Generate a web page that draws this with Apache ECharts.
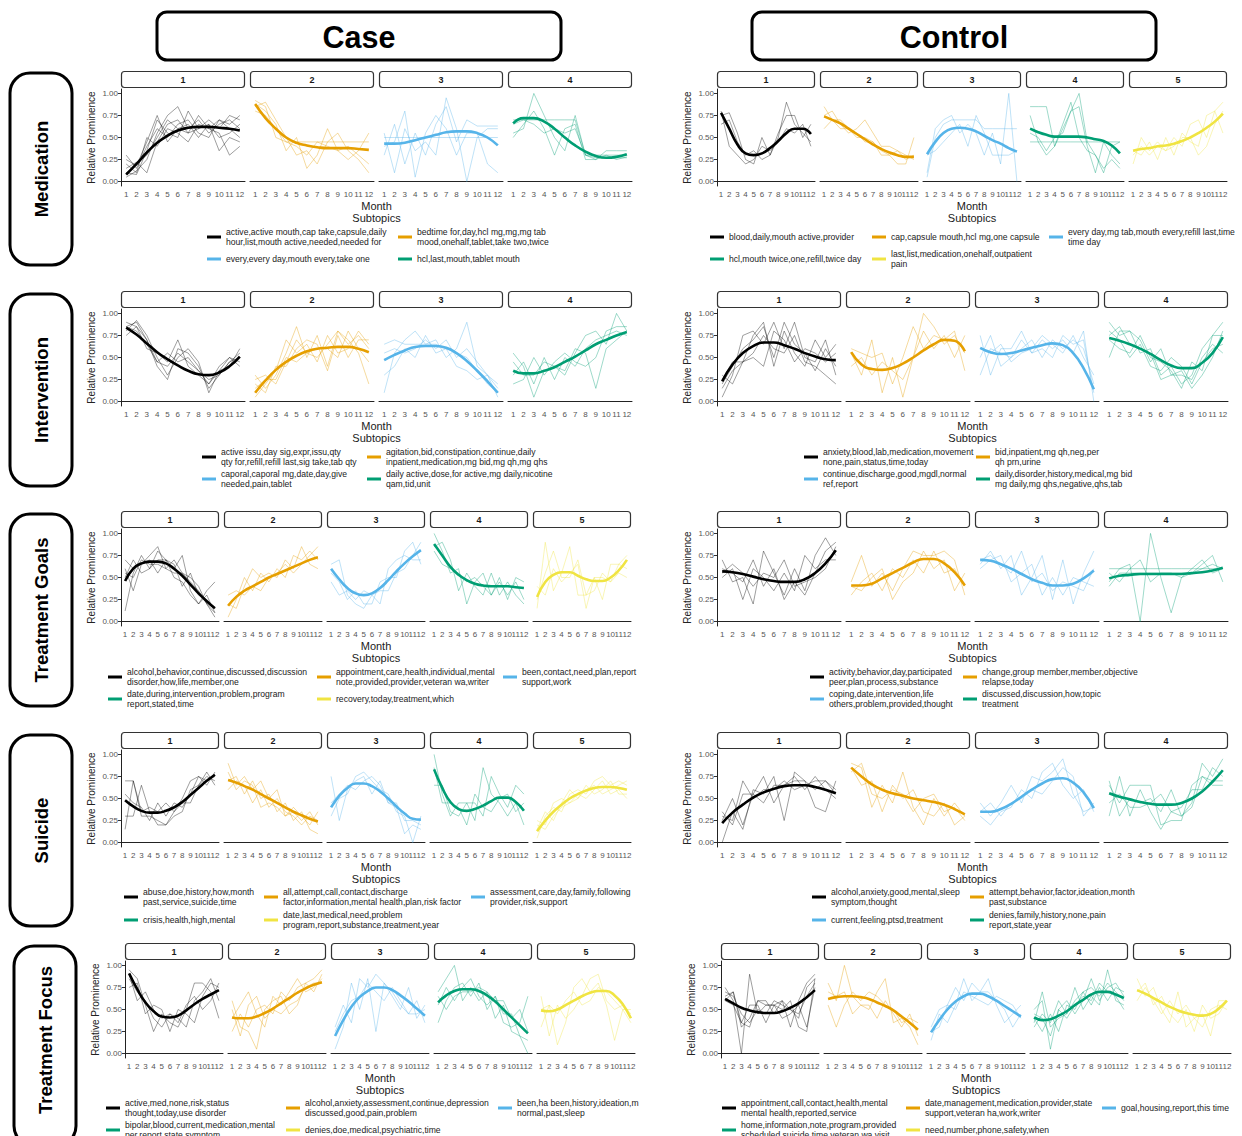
<!DOCTYPE html>
<html>
<head>
<meta charset="utf-8">
<title>Relative prominence of subtopics by month</title>
<script src="https://cdn.jsdelivr.net/npm/echarts@6/dist/echarts.min.js"></script>
<style>
  html, body { margin: 0; padding: 0; background: #fff; }
  #chart { width: 1242px; height: 1136px; }
</style>
</head>
<body>
<div id="chart"></div>
<script>
var months = ['1', '2', '3', '4', '5', '6', '7', '8', '9', '10', '11', '12'];
var yTicks = [0, 0.25, 0.5, 0.75, 1];
var topicColors = ['#000000', '#E69F00', '#56B4E9', '#009E73', '#F0E442'];
var groupNames = ['Case', 'Control'];
var rowNames = ['Medication', 'Intervention', 'Treatment Goals', 'Suicide', 'Treatment Focus'];

// ---- Medication ----
var caseMedTrend = [
  [.08, .2, .33, .44, .52, .58, .61, .62, .62, .61, .6, .58],
  [.88, .72, .6, .5, .44, .41, .39, .38, .38, .38, .37, .36],
  [.43, .43, .44, .47, .5, .53, .56, .57, .57, .55, .5, .41],
  [.66, .72, .72, .68, .6, .5, .41, .34, .29, .27, .28, .31]
];
var caseMedLines = [
  [[.05, .12, .25, .55, .75, .85, .6, .7, .55, .65, .7, .6],
   [.1, .08, .35, .7, .55, .5, .8, .6, .65, .35, .5, .45],
   [.15, .22, .1, .45, .65, .7, .55, .6, .7, .6, .75, .7],
   [.3, .15, .4, .6, .5, .65, .7, .55, .5, .7, .6, .5],
   [.2, .1, .5, .4, .6, .55, .45, .65, .6, .55, .3, .4],
   [.25, .18, .45, .75, .45, .6, .55, .75, .6, .7, .65, .75],
   [.08, .2, .3, .5, .7, .6, .65, .5, .65, .5, .55, .65]],
  [[.92, .85, .5, .45, .4, .3, .45, .4, .35, .4, .3, .2],
   [.85, .9, .7, .5, .3, .35, .2, .45, .55, .35, .25, .1],
   [.8, .75, .6, .45, .45, .45, .45, .45, .45, .45, .45, .45],
   [.88, .8, .65, .35, .5, .15, .3, .6, .35, .25, .35, .55]],
  [[.55, .1, .6, .35, .45, .3, .95, .6, 0, .5, .6, .6],
   [.4, .45, .8, .05, .55, .75, .6, .3, .55, .55, .2, .1],
   [.5, .5, .5, .5, .5, .5, .5, .5, .5, .5, .5, .5],
   [.3, .65, .2, .55, .3, .65, .85, .45, .7, .63, .63, .63]],
  [[.55, .6, 1, .75, .5, .35, .75, .3, .25, .35, .35, .35],
   [.7, .7, .7, .7, .7, .7, .7, .3, .3, .3, .3, .3],
   [.5, .65, .8, .6, .3, .6, .65, .25, .25, .3, .25, .28],
   [.65, .7, .65, .55, .6, .55, .6, .3, .27, .27, .27, .27]]
];
var caseMedTerms = [
  'active,active mouth,cap take,capsule,daily\nhour,list,mouth active,needed,needed for',
  'bedtime for,day,hcl mg,mg,mg tab\nmood,onehalf,tablet,take two,twice',
  'every,every day,mouth every,take one',
  'hcl,last,mouth,tablet mouth'
];

var ctrlMedTrend = [
  [.78, .6, .42, .32, .3, .32, .38, .46, .55, .6, .6, .54],
  [.74, .7, .66, .6, .54, .48, .42, .37, .33, .3, .28, .28],
  [.31, .45, .55, .6, .61, .6, .57, .52, .47, .43, .38, .34],
  [.6, .56, .53, .51, .51, .51, .51, .5, .48, .46, .41, .32],
  [.35, .37, .38, .4, .41, .43, .46, .5, .55, .61, .68, .77]
];
var ctrlMedLines = [
  [[.75, .78, .55, .25, .2, .5, .3, .5, .9, .65, .55, .45],
   [.65, .7, .45, .3, .35, .25, .3, .55, .75, .75, .5, .65],
   [.8, .4, .3, .2, .25, .4, .35, .45, .6, .55, .65, .4]],
  [[.85, .7, .6, .6, .55, .45, .45, .3, .3, .2, .2, .5],
   [.75, .8, .65, .55, .6, .7, .55, .4, .4, .35, .3, .25],
   [.6, .7, .7, .6, .5, .5, .45, .35, .3, .35, .25, .3]],
  [[.1, .6, .7, .75, .55, .65, .55, .3, .55, .2, 1, 0],
   [.05, .5, .65, .7, .7, .7, .7, .6, .6, .6, .6, .6],
   [.3, .35, .45, .55, .65, .4, .75, .55, .3, .3, .3, .35]],
  [[.75, .45, .3, .4, .65, .9, .5, .35, .3, .15, .25, .15],
   [.85, .85, .85, .4, .6, .8, 1, .45, .3, .1, .4, .45],
   [.45, .45, .45, .45, .45, .45, .45, .45, .45, .45, .45, .45],
   [.55, .5, .35, .5, .55, .8, .85, .4, .1, .45, .3, .2]],
  [[.2, .5, .35, .45, .35, .5, .4, .65, .7, .5, .8, .9],
   [.35, .3, .45, .25, .5, .3, .55, .45, .4, .75, .8, .55],
   [.3, .4, .3, .4, .35, .4, .5, .5, .3, .4, .65, .8]]
];
var ctrlMedTerms = [
  'blood,daily,mouth active,provider',
  'cap,capsule mouth,hcl mg,one capsule',
  'every day,mg tab,mouth every,refill last,time\ntime day',
  'hcl,mouth twice,one,refill,twice day',
  'last,list,medication,onehalf,outpatient\npain'
];

// ---- Intervention ----
var caseIntTrend = [
  [.84, .76, .66, .56, .48, .41, .35, .31, .3, .33, .4, .51],
  [.1, .24, .36, .45, .52, .57, .6, .61, .62, .62, .6, .56],
  [.47, .53, .58, .62, .63, .63, .61, .55, .46, .35, .23, .1],
  [.35, .32, .32, .35, .39, .45, .51, .58, .65, .7, .75, .79]
];
var caseIntLines = [
  [[.85, .9, .7, .4, .25, .6, .55, .4, .15, .3, .45, .55],
   [.8, .92, .75, .5, .3, .5, .6, .45, .1, .35, .4, .6],
   [.75, .85, .6, .55, .45, .7, .4, .3, .2, .4, .5, .4],
   [.85, .8, .65, .45, .55, .45, .5, .35, .25, .3, .45, .5],
   [.9, .85, .7, .45, .4, .55, .45, .35, .2, .35, .5, .45]],
  [[.3, .15, .3, .55, .85, .5, .75, .4, .8, .7, .55, .2],
   [.05, .2, .35, .7, .55, .65, .45, .75, .55, .6, .8, .65],
   [.2, .1, .4, .4, .6, .7, .65, .35, .75, .5, .7, .7],
   [.15, .25, .25, .5, .45, .55, .6, .6, .5, .8, .6, .45],
   [.25, .3, .2, .45, .7, .55, .5, .65, .8, .65, .75, .6]],
  [[.1, .55, .7, .8, .65, .7, .5, .6, .9, .4, .3, .05],
   [.3, .4, .6, .5, .75, .55, .6, .4, .35, .25, .3, .15],
   [.65, .7, .65, .65, .65, .65, .6, .55, .5, .35, .2, .1],
   [.55, .6, .55, .6, .7, .6, .7, .5, .6, .45, .3, .2]],
  [[.55, .4, .05, .35, .4, .3, .55, .75, .8, .65, 1, .8],
   [.3, .45, .2, .5, .25, .5, .4, .6, .7, .75, .8, .75],
   [.2, .25, .5, .3, .45, .55, .45, .4, .5, .8, .85, .85],
   [.45, .3, .3, .45, .4, .35, .6, .55, .15, .6, .7, .8]]
];
var caseIntTerms = [
  'active issu,day sig,expr,issu,qty\nqty for,refill,refill last,sig take,tab qty',
  'agitation,bid,constipation,continue,daily\ninpatient,medication,mg bid,mg qh,mg qhs',
  'caporal,caporal mg,date,day,give\nneeded,pain,tablet',
  'daily active,dose,for active,mg daily,nicotine\nqam,tid,unit'
];

var ctrlIntTrend = [
  [.23, .42, .55, .63, .67, .67, .64, .6, .55, .51, .48, .47],
  [.56, .42, .37, .36, .38, .43, .5, .58, .65, .7, .69, .57],
  [.61, .56, .54, .55, .58, .61, .64, .66, .64, .55, .38, .14],
  [.72, .69, .65, .6, .54, .47, .41, .38, .38, .44, .55, .73]
];
var ctrlIntLines = [
  [[.05, .3, .75, .8, .65, .9, .6, .9, .5, .45, .7, .3],
   [.3, .2, .45, .75, .9, .4, .8, .55, .4, .7, .5, .65],
   [.15, .35, .45, .55, .75, .6, .55, .75, .45, .4, .3, .2],
   [.25, .45, .45, .5, .4, .8, .7, .45, .6, .55, .45, .55],
   [.2, .4, .6, .7, .85, .5, .9, .65, .55, .35, .6, .4]],
  [[.55, .3, .7, .1, .5, .05, .5, .8, .6, .75, .5, .75],
   [.4, .5, .3, .45, .35, .25, .5, 1, .85, .65, .75, .55],
   [.6, .55, .5, .55, .2, .5, .85, .6, .75, .7, .8, .35]],
  [[.75, .3, .6, .6, .8, .55, .7, .6, .7, .55, .8, 0],
   [.5, .75, .4, .5, .6, .7, .5, .7, .6, .7, .6, .2],
   [.6, .55, .65, .45, .55, .6, .75, .65, .55, .75, .5, .3],
   [.3, .6, .55, .5, .7, .55, .6, .5, .75, .65, .7, .1]],
  [[.9, .75, .8, .55, .6, .3, .4, .2, .3, .6, .75, .9],
   [.5, .8, .8, .7, .45, .6, .3, .3, .25, .5, .65, .55],
   [.7, .6, .55, .75, .5, .45, .35, .15, .45, .35, .75, .75],
   [.8, .7, .5, .65, .4, .35, .5, .4, .2, .45, .6, .65],
   [.75, .85, .65, .6, .55, .25, .3, .35, .15, .3, .5, .8]]
];
var ctrlIntTerms = [
  'anxiety,blood,lab,medication,movement\nnone,pain,status,time,today',
  'bid,inpatient,mg qh,neg,per\nqh prn,urine',
  'continue,discharge,good,mgdl,normal\nref,report',
  'daily,disorder,history,medical,mg bid\nmg daily,mg qhs,negative,qhs,tab'
];

// ---- Treatment Goals ----
var caseGoalTrend = [
  [.46, .6, .66, .68, .68, .66, .6, .52, .42, .32, .23, .15],
  [.18, .28, .35, .4, .45, .5, .54, .58, .62, .66, .7, .73],
  [.6, .48, .38, .32, .3, .32, .38, .47, .57, .66, .74, .81],
  [.88, .75, .62, .53, .47, .43, .41, .4, .4, .4, .39, .38],
  [.28, .45, .53, .56, .56, .52, .48, .46, .46, .5, .58, .7]
];
var caseGoalLines = [
  [[.12, .55, .75, .6, .8, .7, .6, .75, .35, .2, .3, .1],
   [.6, .35, .65, .75, .85, .6, .7, .55, .5, .4, .2, .05],
   [.7, .6, .65, .7, .55, .7, .5, .45, .3, .2, .35, .45],
   [.5, .7, .55, .6, .7, .7, .65, .4, .55, .3, .25, .15],
   [.55, .5, .7, .65, .65, .6, .55, .55, .45, .35, .2, .1]],
  [[.05, .25, .5, .35, .55, .45, .6, .5, .75, .7, .8, .7],
   [.2, .15, .4, .6, .5, .55, .5, .7, .6, .85, .65, .6],
   [.3, .35, .3, .4, .35, .5, .55, .65, .55, .65, .75, .85]],
  [[.65, .7, .3, .2, .15, .3, .2, .6, .7, .75, .7, .7],
   [.55, .45, .25, .35, .2, .2, .45, .5, .5, .8, .9, .65],
   [.45, .3, .35, .25, .35, .3, .35, .35, .55, .6, .75, .9]],
  [[1, .8, .55, .6, .2, .45, .55, .3, .5, .25, .5, .45],
   [.85, .9, .7, .35, .55, .4, .3, .55, .3, .45, .3, .2],
   [.8, .65, .6, .55, .45, .5, .4, .3, .45, .3, .45, .25]],
  [[.15, .9, .35, .55, .85, .3, .3, .5, .25, .65, .65, .6],
   [.4, .3, .6, .45, .55, .65, .15, .5, .5, .45, .65, .75],
   [.25, .55, .8, .5, .5, .7, .3, .35, .55, .45, .55, .5]]
];
var caseGoalTerms = [
  'alcohol,behavior,continue,discussed,discussion\ndisorder,how,life,member,one',
  'appointment,care,health,individual,mental\nnote,provided,provider,veteran wa,writer',
  'been,contact,need,plan,report\nsupport,work',
  'date,during,intervention,problem,program\nreport,stated,time',
  'recovery,today,treatment,which'
];

var ctrlGoalTrend = [
  [.57, .56, .54, .51, .48, .46, .45, .45, .48, .55, .66, .81],
  [.41, .41, .43, .49, .55, .61, .67, .71, .71, .66, .56, .41],
  [.7, .69, .65, .6, .54, .48, .44, .41, .41, .43, .49, .58],
  [.49, .52, .53, .54, .54, .54, .54, .54, .55, .56, .58, .61]
];
var ctrlGoalLines = [
  [[.7, .45, .5, .2, .8, .55, .3, .6, .35, .75, .95, .75],
   [.6, .55, .45, .7, .4, .6, .25, .45, .3, .55, .8, .9],
   [.5, .6, .25, .6, .5, .35, .55, .35, .75, .6, .7, .7],
   [.55, .65, .55, .4, .55, .5, .7, .4, .45, .5, .6, .85]],
  [[.45, .75, .4, .55, .35, .6, .8, .75, .75, .8, .7, .3],
   [.3, .45, .55, .35, .6, .5, .7, .55, .8, .55, .6, .4],
   [.4, .35, .5, .6, .25, .45, .55, .8, .6, .7, .35, .55]],
  [[.65, .8, .6, .75, .3, .5, .75, .25, .7, .2, .55, .8],
   [.7, .75, .65, .55, .8, .45, .55, .35, .45, .4, .35, .6],
   [.6, .7, .75, .45, .55, .65, .3, .5, .3, .5, .45, .4]],
  [[.45, .6, .65, 0, 1, .5, .1, .5, .6, .7, .55, .6],
   [.55, .45, .6, .7, .45, .55, .55, .5, .55, .65, .75, .45],
   [.6, .6, .6, .6, .6, .6, .6, .6, .6, .6, .6, .6],
   [.4, .55, .55, .55, .55, .55, .55, .55, .55, .6, .65, .6]]
];
var ctrlGoalTerms = [
  'activity,behavior,day,participated\npeer,plan,process,substance',
  'change,group member,member,objective\nrelapse,today',
  'coping,date,intervention,life\nothers,problem,provided,thought',
  'discussed,discussion,how,topic\ntreatment'
];

// ---- Suicide ----
var caseSuiTrend = [
  [.48, .41, .36, .34, .34, .36, .4, .46, .54, .62, .7, .77],
  [.71, .68, .64, .6, .55, .5, .45, .4, .35, .31, .27, .24],
  [.4, .53, .62, .67, .67, .64, .58, .5, .41, .33, .27, .26],
  [.83, .62, .46, .38, .36, .38, .42, .47, .51, .51, .46, .36],
  [.13, .25, .35, .43, .5, .55, .59, .62, .63, .63, .62, .6]
];
var caseSuiLines = [
  [[.15, .7, .3, .3, .25, .2, .35, .5, .7, .75, .7, .75],
   [.3, .3, .65, .35, .2, .2, .3, .35, .6, .65, .8, .65],
   [.55, .45, .4, .25, .45, .3, .45, .4, .55, .75, .65, .8],
   [.7, .7, .35, .4, .35, .45, .35, .45, .45, .65, .75, .7]],
  [[.9, .65, .75, .6, .7, .5, .6, .3, .4, .3, .2, .35],
   [.7, .75, .55, .7, .5, .55, .35, .45, .25, .35, .15, .1],
   [.6, .7, .65, .45, .6, .4, .5, .35, .3, .2, .3, .25],
   [.8, .6, .7, .65, .4, .45, .4, .3, .35, .25, .35, .2]],
  [[.75, .25, .6, .7, .75, .55, .7, .45, .4, .1, .2, .15],
   [.3, .5, .55, .75, .8, .7, .6, .55, .35, .3, 0, .3],
   [.45, .55, .65, .6, .7, .75, .65, .45, .45, .25, .25, .2]],
  [[1, .55, .3, .45, .45, .25, .85, .55, .45, .3, .45, .2],
   [.65, .65, .35, .3, .45, .45, .3, .75, .55, .4, .65, .55],
   [.85, .45, .45, .4, .2, .55, .4, .35, .5, .55, .35, .45]],
  [[.05, .3, .4, .35, .55, .6, .55, .7, .75, .65, .7, .65],
   [.25, .2, .45, .5, .45, .5, .65, .55, .6, .7, .55, .55],
   [.15, .35, .25, .45, .6, .5, .6, .65, .55, .6, .65, .7],
   [.2, .15, .3, .4, .45, .55, .5, .6, .7, .55, .6, .5]]
];
var caseSuiTerms = [
  'abuse,doe,history,how,month\npast,service,suicide,time',
  'all,attempt,call,contact,discharge\nfactor,information,mental health,plan,risk factor',
  'assessment,care,day,family,following\nprovider,risk,support',
  'crisis,health,high,mental',
  'date,last,medical,need,problem\nprogram,report,substance,treatment,year'
];

var ctrlSuiTrend = [
  [.22, .34, .43, .51, .57, .61, .64, .65, .65, .63, .6, .56],
  [.85, .75, .66, .6, .56, .53, .5, .48, .46, .43, .38, .32],
  [.35, .35, .38, .44, .52, .6, .67, .72, .73, .68, .57, .39],
  [.56, .52, .49, .46, .44, .43, .43, .45, .5, .58, .69, .82]
];
var ctrlSuiLines = [
  [[0, .35, .15, .6, .55, .75, .25, .8, .7, .4, .35, .7],
   [.3, .25, .7, .5, .6, .6, .7, .6, .65, .7, .7, .55],
   [.25, .5, .2, .55, .45, .65, .65, .75, .6, .75, .6, .5],
   [.35, .2, .55, .55, .75, .45, .65, .7, .7, .6, .7, .6]],
  [[.9, .85, .4, .65, .45, .8, .4, .2, .5, .3, .45, .3],
   [.85, .65, .7, .35, .65, .5, .6, .35, .3, .45, .2, .3],
   [.8, .9, .55, .5, .6, .55, .35, .5, .55, .35, .4, .25]],
  [[.45, .3, .45, .65, .45, .75, .7, .8, .95, .55, .35, .4],
   [.3, .2, .35, .4, .6, .5, .8, .9, .65, .5, .6, .35],
   [.35, .45, .3, .45, .5, .6, .55, .7, .85, .75, .3, .45]],
  [[.3, .75, .3, .6, .35, .15, .35, .3, .45, .9, .75, .95],
   [.65, .45, .65, .65, .65, .2, .25, .25, .65, .75, .65, .65],
   [.45, .55, .4, .4, .45, .55, .35, .4, .6, .6, .85, .75],
   [.7, .3, .5, .45, .5, .35, .6, .3, .4, .75, .7, .7]]
];
var ctrlSuiTerms = [
  'alcohol,anxiety,good,mental,sleep\nsymptom,thought',
  'attempt,behavior,factor,ideation,month\npast,substance',
  'current,feeling,ptsd,treatment',
  'denies,family,history,none,pain\nreport,state,year'
];

// ---- Treatment Focus ----
var caseFocusTrend = [
  [.91, .73, .58, .48, .42, .41, .43, .49, .56, .62, .67, .72],
  [.41, .4, .4, .42, .46, .51, .57, .63, .69, .74, .78, .81],
  [.2, .38, .53, .64, .71, .75, .75, .72, .66, .59, .51, .43],
  [.58, .66, .71, .73, .73, .71, .66, .59, .5, .41, .32, .23],
  [.49, .48, .5, .55, .6, .65, .69, .71, .71, .66, .56, .4]
];
var caseFocusLines = [
  [[.95, .85, .55, .25, .45, .35, .3, .5, .8, .8, .7, .4],
   [.85, .7, .6, .4, .3, .45, .4, .3, .6, .7, .85, .6],
   [.75, .8, .45, .55, .5, .25, .5, .45, .35, .65, .8, .75],
   [.9, .6, .7, .5, .4, .45, .35, .55, .65, .5, .6, .8]],
  [[.6, .3, .25, .05, .5, .6, .65, .45, .55, .8, .85, .95],
   [.4, .55, .7, .45, .3, .65, .55, .7, .85, .7, .75, .85],
   [.25, .45, .3, .5, .55, .45, .7, .6, .75, .8, .7, .9],
   [.5, .2, .55, .65, .4, .5, .45, .55, .6, .75, .8, .8]],
  [[.05, .3, .8, .5, .85, .25, .8, .65, .5, .75, .4, .55],
   [.3, .55, .35, .85, .75, .9, .8, .7, .55, .45, .6, .35],
   [.25, .45, .6, .65, .8, .7, .6, .75, .6, .45, .45, .5]],
  [[.7, .85, 1, .6, .75, .6, .7, .4, .55, .25, .2, .15],
   [.35, .6, .75, .8, .65, .8, .5, .65, .45, .45, .2, 0],
   [.55, .75, .6, .75, .85, .65, .55, .65, .35, .3, .35, .65],
   [.65, .5, .65, .7, .7, .75, .7, .6, .6, .4, .5, .25]],
  [[.3, .55, .1, .35, .75, .85, .7, .8, .55, .15, .5, .5],
   [.65, .2, .55, .4, .5, .65, .85, .9, .6, .5, .55, .45],
   [.5, .55, .45, .6, .7, .55, .6, .75, .7, .6, .5, .35]]
];
var caseFocusTerms = [
  'active,med,none,risk,status\nthought,today,use disorder',
  'alcohol,anxiety,assessment,continue,depression\ndiscussed,good,pain,problem',
  'been,ha been,history,ideation,m\nnormal,past,sleep',
  'bipolar,blood,current,medication,mental\nper,report,state,symptom',
  'denies,doe,medical,psychiatric,time'
];

var ctrlFocusTrend = [
  [.62, .57, .52, .49, .47, .46, .46, .48, .52, .57, .64, .72],
  [.62, .64, .65, .65, .64, .62, .58, .54, .49, .42, .35, .27],
  [.24, .38, .5, .59, .65, .68, .68, .65, .6, .54, .48, .42],
  [.41, .38, .39, .43, .48, .55, .61, .67, .7, .7, .67, .63],
  [.72, .68, .63, .58, .53, .49, .46, .44, .43, .45, .51, .6]
];
var ctrlFocusLines = [
  [[.75, .6, 0, .9, .45, .55, .55, .5, .6, .3, .25, .85],
   [.65, .7, .3, .4, .6, .6, .45, .6, .3, .6, .8, .9],
   [.6, .55, .35, .55, .55, .35, .55, .4, .45, .55, .3, .75],
   [.7, .65, .45, .35, .5, .45, .6, .55, .5, .45, .65, .8],
   [.6, .7, .35, .3, .6, .55, .55, .6, .5, .4, .75, .85]],
  [[.8, .6, 1, .65, .55, .5, .7, .85, .35, .4, .3, .1],
   [.55, .3, .55, .7, .6, .7, .65, .55, .5, .35, .4, .35],
   [.7, .65, .7, .45, .55, .55, .4, .6, .45, .3, .45, .2]],
  [[.15, .45, .35, .55, .85, .6, .7, .85, .55, .35, .45, .55],
   [.3, .5, .55, .75, .6, .8, .7, .7, .6, .5, .3, .45],
   [.25, .3, .55, .5, .7, .65, .6, .55, .65, .6, .55, .4]],
  [[.5, .6, .05, .5, .6, .45, .6, .85, .6, .75, .8, .65],
   [.35, .7, .3, .4, .45, .75, .5, .65, .55, .95, .6, .55],
   [.4, .25, .45, .25, .55, .5, .7, .55, .75, .6, .75, .7],
   [.45, .4, .2, .5, .4, .55, .65, .6, .8, .7, .65, .5],
   [.3, .45, .35, .6, .45, .6, .7, .75, .65, .8, .7, .6]],
  [[.85, .65, .75, .5, .35, .7, .3, .4, .45, .2, .6, .6],
   [.7, .8, .55, .65, .45, .35, .5, .25, .55, .4, .45, .6],
   [.6, .75, .6, .45, .6, .45, .55, .4, .3, .5, .55, .5]]
];
var ctrlFocusTerms = [
  'appointment,call,contact,health,mental\nmental health,reported,service',
  'date,management,medication,provider,state\nsupport,veteran ha,work,writer',
  'goal,housing,report,this time',
  'home,information,note,program,provided\nscheduled,suicide,time,veteran wa,visit',
  'need,number,phone,safety,when'
];

// layout of each facet block (pixels)
var blocks = [
  {trend: caseMedTrend, lines: caseMedLines, terms: caseMedTerms, left: 121, width: 124, top: 89, legX: [207, 398], legY: [237, 259], perRow: 2},
  {trend: ctrlMedTrend, lines: ctrlMedLines, terms: ctrlMedTerms, left: 717, width: 98, top: 89, legX: [710, 872, 1049], legY: [237, 259], perRow: 3},
  {trend: caseIntTrend, lines: caseIntLines, terms: caseIntTerms, left: 121, width: 124, top: 309, legX: [202, 367], legY: [457, 479], perRow: 2},
  {trend: ctrlIntTrend, lines: ctrlIntLines, terms: ctrlIntTerms, left: 717, width: 124, top: 309, legX: [804, 976], legY: [457, 479], perRow: 2},
  {trend: caseGoalTrend, lines: caseGoalLines, terms: caseGoalTerms, left: 121, width: 98, top: 529, legX: [108, 317, 503], legY: [677, 699], perRow: 3},
  {trend: ctrlGoalTrend, lines: ctrlGoalLines, terms: ctrlGoalTerms, left: 717, width: 124, top: 529, legX: [810, 963], legY: [677, 699], perRow: 2},
  {trend: caseSuiTrend, lines: caseSuiLines, terms: caseSuiTerms, left: 121, width: 98, top: 750, legX: [124, 264, 471], legY: [897, 920], perRow: 3},
  {trend: ctrlSuiTrend, lines: ctrlSuiLines, terms: ctrlSuiTerms, left: 717, width: 124, top: 750, legX: [812, 970], legY: [897, 920], perRow: 2},
  {trend: caseFocusTrend, lines: caseFocusLines, terms: caseFocusTerms, left: 125, width: 98, top: 961, legX: [106, 286, 498], legY: [1108, 1130], perRow: 3},
  {trend: ctrlFocusTrend, lines: ctrlFocusLines, terms: ctrlFocusTerms, left: 721, width: 98, top: 961, legX: [722, 906, 1102], legY: [1108, 1130], perRow: 3}
];

var FONT = '"Liberation Sans", Arial, Helvetica, sans-serif';
var PANEL_H = 97, GAP = 5;

var grids = [], xAxes = [], yAxes = [], series = [], legends = [], graphics = [];

function label(text, x, y, size, weight, color, rotation) {
  return {
    type: 'text', x: x, y: y, rotation: rotation || 0, silent: true,
    style: {
      text: text, x: 0, y: 0, fill: color || '#1a1a1a',
      fontSize: size, fontWeight: weight || 'normal', fontFamily: FONT,
      align: 'center', verticalAlign: 'middle',
      textAlign: 'center', textVerticalAlign: 'middle'
    }
  };
}

blocks.forEach(function (b) {
  var n = b.trend.length;
  for (var i = 0; i < n; i++) {
    var x0 = b.left + i * (b.width + GAP);
    var k = grids.length;
    var color = topicColors[i];
    grids.push({left: x0, top: b.top, width: b.width, height: PANEL_H});
    xAxes.push({
      type: 'category', gridIndex: k, data: months, boundaryGap: true,
      axisLine: {lineStyle: {color: '#222', width: 1}},
      axisTick: {alignWithLabel: true, length: 3, lineStyle: {color: '#333'}},
      axisLabel: {interval: 0, fontSize: 8, color: '#555', margin: 4, fontFamily: FONT},
      splitLine: {show: false}
    });
    yAxes.push({
      type: 'value', gridIndex: k, min: -0.05, max: 1.05, show: i === 0,
      name: 'Relative Prominence', nameLocation: 'middle', nameGap: 25,
      nameTextStyle: {fontSize: 10, color: '#222', fontFamily: FONT},
      axisLine: {show: true, lineStyle: {color: '#222', width: 1}},
      axisTick: {show: true, length: 3, customValues: yTicks, lineStyle: {color: '#333'}},
      axisLabel: {fontSize: 8, color: '#555', margin: 3, fontFamily: FONT, customValues: yTicks,
        formatter: function (v) { return v.toFixed(2); }},
      splitLine: {show: false}
    });
    b.lines[i].forEach(function (vals) {
      series.push({
        type: 'line', xAxisIndex: k, yAxisIndex: k, data: vals, symbol: 'none',
        silent: true, z: 2, color: color,
        lineStyle: {color: color, width: 1, opacity: 0.38}
      });
    });
    series.push({
      type: 'line', name: b.terms[i], xAxisIndex: k, yAxisIndex: k, data: b.trend[i],
      symbol: 'none', smooth: 0.5, z: 5, color: color,
      lineStyle: {color: color, width: 2.6}
    });
    // facet strip
    graphics.push({
      type: 'rect', silent: true,
      shape: {x: x0 + 0.5, y: b.top - 17.5, width: b.width - 1, height: 16, r: 3},
      style: {fill: '#ffffff', stroke: '#333333', lineWidth: 1.2}
    });
    graphics.push(label(String(i + 1), x0 + b.width / 2, b.top - 9.5, 9, 'bold', '#1a1a1a'));
  }
  var cx = b.left + (n * b.width + (n - 1) * GAP) / 2;
  graphics.push(label('Month', cx, b.top + 117, 11, 'normal', '#1a1a1a'));
  graphics.push(label('Subtopics', cx, b.top + 129, 11, 'normal', '#1a1a1a'));
  b.terms.forEach(function (t, j) {
    var col = j % b.perRow, row = Math.floor(j / b.perRow);
    var nLines = t.split('\n').length;
    legends.push({
      data: [t], left: b.legX[col], top: b.legY[row] - nLines * 5, padding: 0,
      orient: 'horizontal', selectedMode: false, icon: 'rect',
      itemWidth: 14, itemHeight: 3, itemGap: 0,
      textStyle: {fontSize: 8.6, lineHeight: 10, color: '#222', fontFamily: FONT}
    });
  });
});

// column headers
[[157, 'Case'], [752, 'Control']].forEach(function (h, gi) {
  graphics.push({
    type: 'rect', silent: true,
    shape: {x: h[0], y: 12, width: 404, height: 48, r: 10},
    style: {fill: 'none', stroke: '#000', lineWidth: 3}
  });
  graphics.push(label(groupNames[gi], h[0] + 202, 37, 30.5, 'bold', '#000'));
});

// row headers
var rowBoxes = [[10, 73, 192], [10, 294, 192], [10, 514, 192], [10, 735, 191], [14, 946, 200]];
rowBoxes.forEach(function (r, ri) {
  graphics.push({
    type: 'rect', silent: true,
    shape: {x: r[0], y: r[1], width: 62, height: r[2], r: 20},
    style: {fill: 'none', stroke: '#000', lineWidth: 3}
  });
  var cy = ri === 4 ? 1040 : r[1] + r[2] / 2;
  graphics.push(label(rowNames[ri], r[0] + 31, cy, 18.5, 'bold', '#000', Math.PI / 2));
});

var chart = echarts.init(document.getElementById('chart'), null, {renderer: 'svg'});
chart.setOption({
  animation: false,
  backgroundColor: '#ffffff',
  textStyle: {fontFamily: FONT},
  grid: grids,
  xAxis: xAxes,
  yAxis: yAxes,
  legend: legends,
  series: series,
  graphic: {elements: graphics}
});
</script>
</body>
</html>
